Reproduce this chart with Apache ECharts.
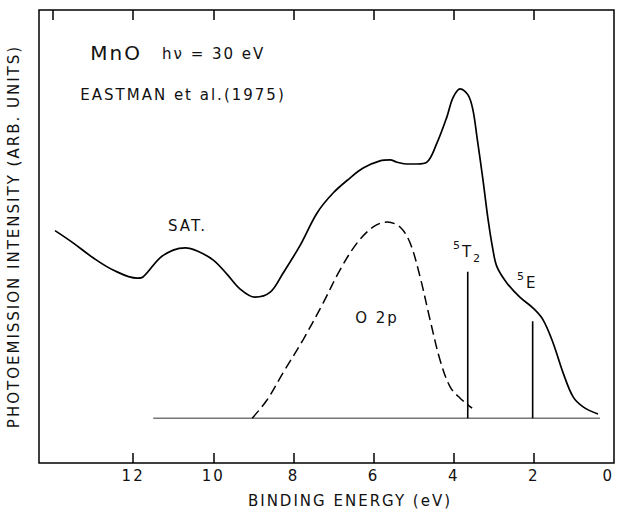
<!DOCTYPE html>
<html><head><meta charset="utf-8">
<script src="https://cdn.jsdelivr.net/npm/echarts@6/dist/echarts.min.js"></script>
<style>
html,body{margin:0;padding:0;background:#fff;}
#c{width:618px;height:509px;}
#c text{letter-spacing:2px;}
</style></head><body><div id="c"></div>
<script>
// Binding energy (eV) and intensity (arb. units, 0-100) of the measured spectrum
const solidE = [13.95,13.50,13.00,12.50,11.90,11.75,11.33,11.00,10.70,10.40,10.00,9.66,9.33,8.96,8.58,8.26,7.83,7.41,7.01,6.59,6.26,5.84,5.59,5.41,5.16,4.92,4.67,4.42,4.17,4.02,3.84,3.64,3.52,3.42,3.27,3.14,3.02,2.92,2.67,2.35,2.02,1.77,1.52,1.27,1.02,0.77,0.40];
const solidI = [51.3,48.6,45.3,42.6,40.8,41.1,45.3,47.0,47.5,46.8,44.8,41.7,38.4,36.6,37.7,41.9,48.1,55.2,59.6,62.9,65.1,66.7,66.9,66.4,66.0,66.0,66.4,70.6,76.4,80.6,82.6,81.2,77.9,72.0,62.5,53.6,47.0,43.3,39.7,36.6,34.2,31.6,26.5,19.9,14.6,12.4,10.8];
// O 2p contribution (dashed)
const o2pE = [9.03,8.66,8.26,7.76,7.26,6.84,6.41,6.01,5.66,5.34,5.09,4.84,4.59,4.34,4.09,3.84,3.54];
const o2pI = [9.9,13.9,19.9,27.2,35.3,42.6,48.6,52.1,53.2,52.1,48.6,41.1,31.6,22.7,16.8,14.3,12.1];
// Background line
const baselineE = [11.5, 0.35];
const baselineI = 9.9;
// Crystal-field lines 5T2 and 5E
const stickE = [3.65, 2.03];
const stickI = [42.2, 31.3];
// Axis ticks
const bottomTicks = [2,4,6,8,10,12];
const xTickLabels = [0,2,4,6,8,10,12];
const topTicks = [2,4,6,8,10,12,14];

const FONT = '"DejaVu Sans", sans-serif';
const chart = echarts.init(document.getElementById('c'), null, {renderer:'svg'});

const series = [
  {type:'line', name:'spectrum', data: solidE.map((e,i)=>[e, solidI[i]]), smooth:0.35, symbol:'none',
   lineStyle:{color:'#000', width:1.7}, z:3},
  {type:'line', name:'O 2p', data: o2pE.map((e,i)=>[e, o2pI[i]]), smooth:0.35, symbol:'none',
   lineStyle:{color:'#000', width:1.5, type:[10,5]}, z:3},
  {type:'line', name:'baseline', data: baselineE.map(e=>[e, baselineI]), symbol:'none',
   lineStyle:{color:'#777', width:1.5}, z:2}
];
stickE.forEach((e,i)=>{
  series.push({type:'line', name:'stick'+i, data:[[e, baselineI],[e, stickI[i]]], symbol:'none',
    lineStyle:{color:'#000', width:1.6}, z:3});
});

chart.setOption({
  animation:false,
  backgroundColor:'#fff',
  grid:{left:39, right:4, top:10, bottom:46, show:true, borderColor:'#000', borderWidth:1.5,
        backgroundColor:'transparent', containLabel:false, outerBoundsMode:'none'},
  xAxis:[{
    type:'value', inverse:true, min:0, max:14.35, position:'bottom',
    axisLine:{show:false}, splitLine:{show:false},
    axisTick:{show:true, inside:true, length:10, customValues:bottomTicks, lineStyle:{color:'#000', width:1.5}},
    axisLabel:{show:true, customValues:xTickLabels, color:'#111', fontFamily:FONT, fontSize:15, margin:5,
               showMinLabel:true, showMaxLabel:true, alignMinLabel:'right'},
    name:'BINDING ENERGY (eV)', nameLocation:'middle', nameGap:30,
    nameTextStyle:{color:'#111', fontFamily:FONT, fontSize:15, padding:[0,0,0,47]}
  },{
    type:'value', inverse:true, min:0, max:14.35, position:'top',
    axisLine:{show:false}, splitLine:{show:false},
    axisTick:{show:true, inside:true, length:10, customValues:topTicks, lineStyle:{color:'#000', width:1.5}},
    axisLabel:{show:false}
  }],
  yAxis:{
    type:'value', min:0, max:100,
    axisLine:{show:false}, axisTick:{show:false}, axisLabel:{show:false}, splitLine:{show:false},
    name:'PHOTOEMISSION INTENSITY (ARB. UNITS)', nameLocation:'middle', nameRotate:90, nameGap:18,
    nameTextStyle:{color:'#111', fontFamily:FONT, fontSize:15}
  },
  series: series
});

// Annotations (placed in data coordinates)
const notes = [
  {text:'MnO', e:13.07, v:90.4, size:20},
  {text:'hν = 30 eV', e:11.28, v:90.3, size:15},
  {text:'EASTMAN et al.(1975)', e:13.32, v:81.3, size:15},
  {text:'SAT.', e:11.13, v:52.3, size:15},
  {text:'O 2p', e:6.46, v:31.9, size:15},
  {text:'{sup|5}{b|T}{sub|2}', e:4.02, v:46.6, size:15, rich:true},
  {text:'{sup|5}{b|E}', e:2.42, v:39.8, size:15, rich:true}
];
const richStyles = {
  sup:{fontSize:11, fontFamily:FONT, fill:'#111', verticalAlign:'top', padding:[0,2,0,0]},
  b:{fontSize:15, fontFamily:FONT, fill:'#111', lineHeight:24, padding:[0,2,0,0]},
  sub:{fontSize:11, fontFamily:FONT, fill:'#111', verticalAlign:'bottom'}
};
const graphics = notes.map(n=>{
  const p = chart.convertToPixel({gridIndex:0}, [n.e, n.v]);
  const st = {text:n.text, fill:'#111', font: n.size+'px '+FONT, textAlign:'left', textVerticalAlign:'middle'};
  if (n.rich) st.rich = richStyles;
  return {type:'text', x:p[0], y:p[1], style:st, z:10};
});
chart.setOption({graphic:graphics});
</script></body></html>
